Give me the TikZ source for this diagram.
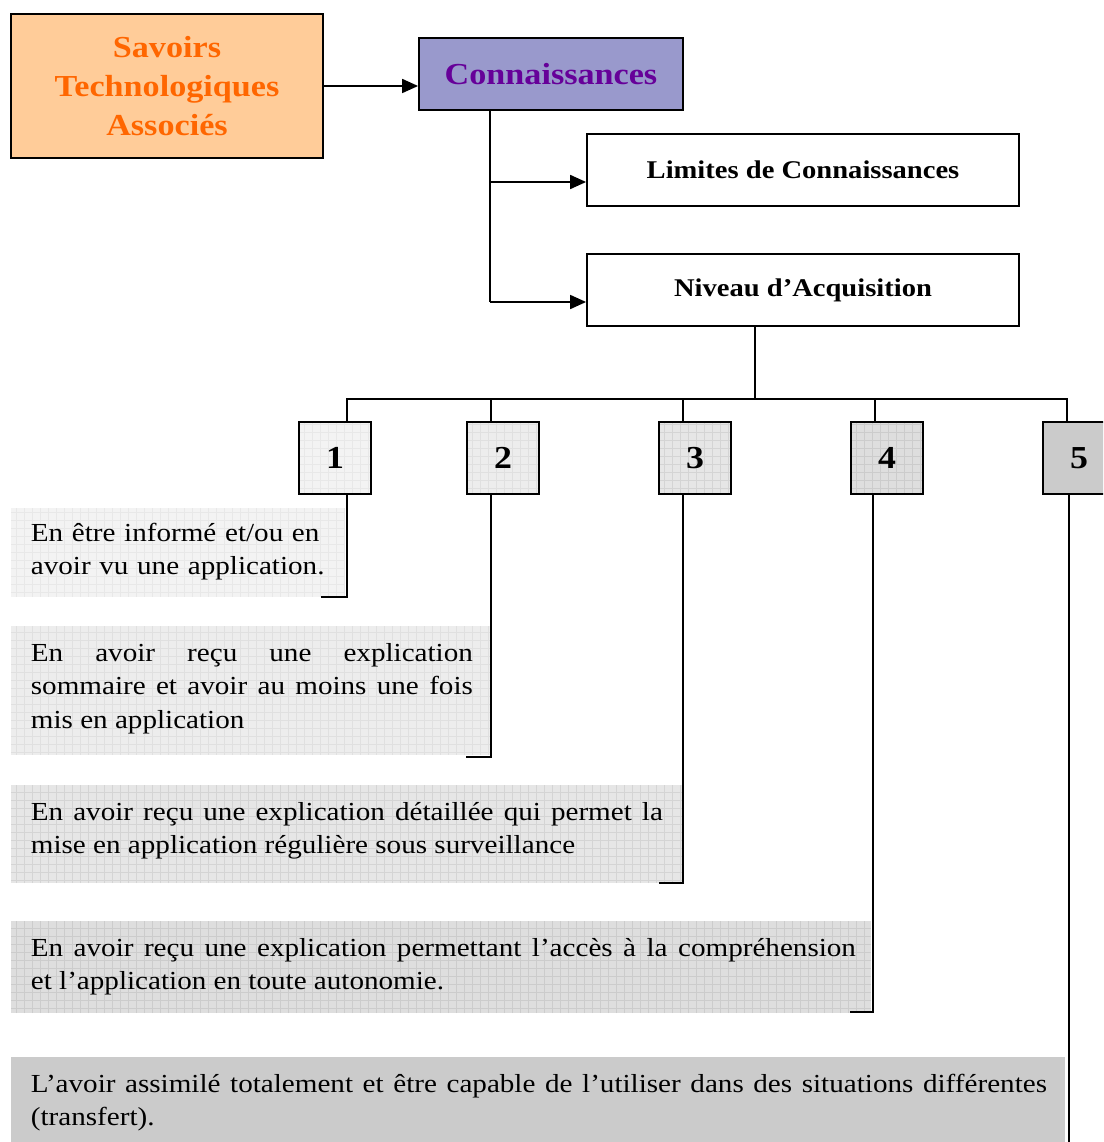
\documentclass[tikz,border=0pt]{standalone}
\usepackage{fontspec}
\setmainfont{Liberation Serif}[FakeStretch=1.12]
\usetikzlibrary{arrows.meta}

\definecolor{savfill}{HTML}{FFCC99}
\definecolor{savtext}{HTML}{FF6600}
\definecolor{confill}{HTML}{9999CC}
\definecolor{context}{HTML}{660099}
\definecolor{gA}{HTML}{F3F3F3}
\definecolor{gB}{HTML}{EDEDED}
\definecolor{gC}{HTML}{E6E6E6}
\definecolor{gD}{HTML}{DEDEDE}
\definecolor{gE}{HTML}{CBCBCB}
\definecolor{lA}{HTML}{E8E8E8}
\definecolor{lB}{HTML}{E0E0E0}
\definecolor{lC}{HTML}{D4D4D4}
\definecolor{lD}{HTML}{CCCCCC}

% shaded panel: base fill plus a fine grid texture
\newcommand\texturedpanel[4]{%
  \fill[#1] #3 rectangle #4;
  \begin{scope}
    \clip #3 rectangle #4;
    \draw[#2,line width=0.7pt,step=8pt] #3 grid #4;
  \end{scope}}

\begin{document}
\begin{tikzpicture}[x=1pt,y=-1pt,line width=1.8pt,
  framed/.style={draw=black,line width=1.8pt,inner sep=0pt},
  titlefont/.style={font=\fontsize{30.5}{39}\selectfont\bfseries},
  labelfont/.style={font=\fontsize{25.5}{30}\selectfont\bfseries},
  numbox/.style={framed,minimum width=72pt,minimum height=72pt,
    font=\fontsize{32}{32}\selectfont\bfseries},
  desc/.style={anchor=base west,inner sep=0pt,align=justify,
    font=\fontsize{26}{33.5}\selectfont},
  arr/.style={-{Triangle[length=16pt,width=14pt]}}]

\useasboundingbox (0,0) rectangle (1103,1142);
\clip (0,0) rectangle (1103,1142);

% top row
\node[framed,fill=savfill,minimum width=312pt,minimum height=144pt,
  titlefont,text=savtext,align=center] (sav) at (167,86)
  {\raisebox{-2pt}{Savoirs}\\\raisebox{-2pt}{Technologiques}\\\raisebox{-2pt}{Associés}};
\node[framed,fill=confill,minimum width=264pt,minimum height=72pt,
  titlefont,text=context] (con) at (551,74) {Connaissances};
\node[framed,minimum width=432pt,minimum height=72pt,labelfont] (lim)
  at (803,170) {Limites de Connaissances};
\node[framed,minimum width=432pt,minimum height=72pt,labelfont] (niv)
  at (803,290) {Niveau d’Acquisition};

\draw[arr] (sav.east) -- (sav.east -| con.west);

\coordinate (trunk) at ([xshift=72pt]con.south west);
\coordinate (limin) at ([yshift=-12pt]lim.west);
\coordinate (nivin) at ([yshift=-12pt]niv.west);
\draw (trunk) -- (trunk |- nivin);
\draw[arr] (trunk |- limin) -- (limin);
\draw[arr] (trunk |- nivin) -- (nivin);

% level boxes
\texturedpanel{gA}{lA}{(299,422)}{(371,494)}
\texturedpanel{gB}{lB}{(467,422)}{(539,494)}
\texturedpanel{gC}{lC}{(659,422)}{(731,494)}
\texturedpanel{gD}{lD}{(851,422)}{(923,494)}
\node[numbox] (n1) at (335,458) {\raisebox{-2pt}{1}};
\node[numbox] (n2) at (503,458) {\raisebox{-2pt}{2}};
\node[numbox] (n3) at (695,458) {\raisebox{-2pt}{3}};
\node[numbox] (n4) at (887,458) {\raisebox{-2pt}{4}};
\node[numbox,fill=gE] (n5) at (1079,458) {\raisebox{-2pt}{5}};

\coordinate (hub) at ([xshift=-48pt,yshift=-72pt]niv.south);
\draw (niv.south -| hub) -- (hub);
\draw ([xshift=12pt]n1.north) |- (hub);
\draw ([xshift=-12pt]n2.north) |- (hub);
\draw ([xshift=-12pt]n3.north) |- (hub);
\draw ([xshift=-12pt]n4.north) |- (hub);
\draw ([xshift=-12pt]n5.north) |- (hub);

% description panels
\texturedpanel{gA}{lA}{(11,508)}{(345,597)}
\texturedpanel{gB}{lB}{(11,626)}{(490,755)}
\texturedpanel{gC}{lC}{(11,785)}{(682,883)}
\texturedpanel{gD}{lD}{(11,921)}{(871,1013)}
\fill[gE] (11,1057) rectangle (1065,1142);

\node[desc,text width=300pt,align=left] (t1) at (30,541)
  {En être informé et/ou en\\avoir vu une application.};
\node[desc,text width=442pt] (t2) at (30,661)
  {En avoir reçu une explication\linebreak sommaire et avoir au moins une fois\linebreak mis en application};
\node[desc,text width=632pt] (t3) at (30,820)
  {En avoir reçu une explication détaillée qui permet la\linebreak mise en application régulière sous surveillance};
\node[desc,text width=825pt] (t4) at (30,956)
  {En avoir reçu une explication permettant l’accès à la compréhension\linebreak et l’application en toute autonomie.};
\node[desc,text width=1016pt] (t5) at (30,1092)
  {L’avoir assimilé totalement et être capable de l’utiliser dans des situations différentes\linebreak (transfert).};

% level-to-panel leaders
\coordinate (foot1) at (321,597);
\coordinate (foot2) at (466,757);
\coordinate (foot3) at (659,883);
\coordinate (foot4) at (850,1012);
\coordinate (tail5) at (1069,1150);
\draw ([xshift=12pt]n1.south) |- (foot1);
\draw ([xshift=-12pt]n2.south) |- (foot2);
\draw ([xshift=-12pt]n3.south) |- (foot3);
\draw ([xshift=-14pt]n4.south) |- (foot4);
\draw (n5.south -| tail5) -- (tail5);
\end{tikzpicture}
\end{document}
